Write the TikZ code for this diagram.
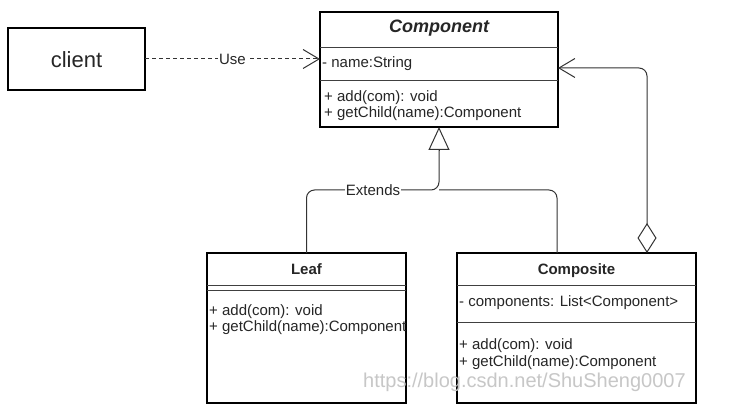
\documentclass[tikz,border=0pt]{standalone}
\usepackage{fontspec}
\setmainfont{Liberation Sans}
\usetikzlibrary{arrows.meta,calc}
\begin{document}
\begin{tikzpicture}[x=1pt,y=-1pt,
  box/.style={draw=black,line width=1.1pt,fill=white,inner sep=0pt,outer sep=0pt},
  divider/.style={draw=black!75,line width=0.8pt},
  txt/.style={inner sep=0pt,anchor=base west,text=black!85,font=\fontsize{15}{16}\selectfont},
  ttl/.style={inner sep=0pt,anchor=base,text=black!85,font=\fontsize{15}{16}\selectfont\bfseries},
  conn/.style={draw=black!80,line width=1pt},
  lbl/.style={fill=white,inner sep=1pt,text=black!85,font=\fontsize{15}{16}\selectfont},
  barb/.tip={Straight Barb[length=16pt,width=19pt,line width=1pt]}
]
\useasboundingbox (0,0) rectangle (737,411);
% boxes
\node[box,minimum width=137pt,minimum height=62pt] (client) at (76.5,59) {};
\node[box,minimum width=238pt,minimum height=115pt] (comp) at (439,69.5) {};
\node[box,minimum width=199pt,minimum height=150pt] (leaf) at (306.5,328) {};
\node[box,minimum width=239pt,minimum height=150pt] (composite) at (576.5,328) {};
% client text
\node[inner sep=0pt,anchor=base,text=black!85,font=\fontsize{22}{24}\selectfont] (clienttxt) at (76.5,68) {client};
% Component
\node[ttl,font=\fontsize{18}{20}\selectfont\bfseries\itshape] (comptitle) at (439,33) {Component};
\draw[divider] (320,47) -- (558,47);
\draw[divider] (320,80) -- (558,80);
\node[txt] (compattr) at (322,68) {- name:String};
\node[txt] (compm1) at (324,102) {+ add(com): void};
\node[txt] (compm2) at (324,118) {+ getChild(name):Component};
% Leaf
\node[ttl] (leaftitle) at (306.5,275) {Leaf};
\draw[divider] (207,285) -- (406,285);
\draw[divider] (207,290) -- (406,290);
\begin{scope}
\clip (207,253) rectangle (405.5,403);
\node[txt] (leafm1) at (209,316) {+ add(com): void};
\node[txt] (leafm2) at (209,332) {+ getChild(name):Component};
\end{scope}
% Composite
\node[ttl] (comptitle2) at (576.5,275) {Composite};
\draw[divider] (457,285) -- (696,285);
\draw[divider] (457,322) -- (696,322);
\node[txt] (cattr) at (459,307) {- components: List<Component>};
\node[txt] (cm1) at (459,350) {+ add(com): void};
\node[txt] (cm2) at (459,367) {+ getChild(name):Component};
% connectors
\draw[conn,dash pattern=on 4pt off 3pt,-{barb}] (client.east) -- (client.east -| comp.west)
  node[lbl,pos=0.5] (uselbl) {Use};
\coordinate (j) at (439,190);
\coordinate (cn) at (557,253);
\draw[conn,rounded corners=8pt] (leaf.north) |- (j) -- ($(comp.south)+(0,23)$);
\draw[conn,rounded corners=8pt] (cn) |- (j);
\draw[conn,-{Triangle[open,length=23pt,width=21pt,line width=1pt,fill=white]}] ($(comp.south)+(0,23)$) -- (comp.south);
\node[lbl] (extlbl) at (373,190) {Extends};
\coordinate (agg) at (647,253);
\coordinate (aggc) at (647,68);
\draw[conn,rounded corners=8pt,{Diamond[open,length=30pt,width=19pt,line width=1pt,fill=white]}-{barb}] (agg) -- (aggc) -- (aggc -| comp.east);
% watermark
\node[inner sep=0pt,anchor=base west,text=black!22,font=\fontsize{20}{22}\selectfont] (wm) at (363,388) {https://blog.csdn.net/ShuSheng0007};
\end{tikzpicture}
\end{document}
